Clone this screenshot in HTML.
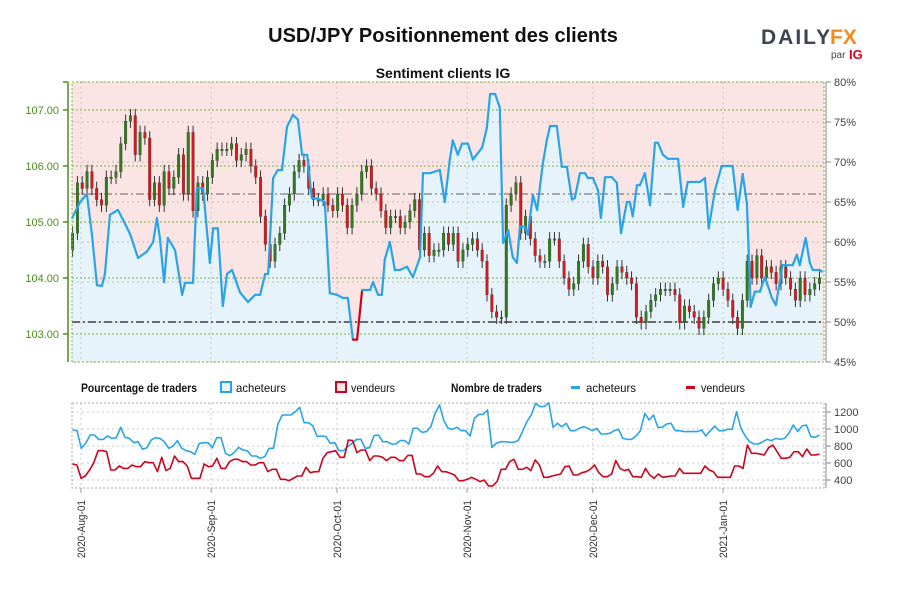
<!DOCTYPE html>
<html><head><meta charset="utf-8"><style>
html,body{margin:0;padding:0;background:#fff;}
svg{display:block;font-family:"Liberation Sans",sans-serif;}
.nar{font-family:"Liberation Sans Narrow","Liberation Sans",sans-serif;}
</style></head><body>
<svg id="c" width="900" height="600" viewBox="0 0 900 600">
<text x="443" y="42" text-anchor="middle" font-size="20" font-weight="bold" fill="#111">USD/JPY Positionnement des clients</text>
<g>
<text x="761" y="44" font-size="21" font-weight="bold" fill="#3d4550" letter-spacing="2">DAILY</text>
<text x="830" y="44" font-size="21" font-weight="bold" fill="#f28c1e">FX</text>
<text x="831" y="58" font-size="10" fill="#444">par</text>
<text x="849" y="59" font-size="13" font-weight="bold" fill="#e2001a">IG</text>
</g>
<text x="443" y="78" text-anchor="middle" font-size="14" font-weight="bold" fill="#111">Sentiment clients IG</text>
<g id="main"></g>
<g id="legend" class="nar">
<text x="81" y="392" font-size="12" font-weight="bold" fill="#111" textLength="116" lengthAdjust="spacingAndGlyphs">Pourcentage de traders</text>
<rect x="221" y="382" width="10" height="10" fill="#e6f3fb" stroke="#2aa4e8" stroke-width="2"/>
<text x="236" y="392" font-size="12" fill="#111" textLength="50" lengthAdjust="spacingAndGlyphs">acheteurs</text>
<rect x="336" y="382" width="10" height="10" fill="#fbe4e4" stroke="#d0021b" stroke-width="2"/>
<text x="351" y="392" font-size="12" fill="#111" textLength="44" lengthAdjust="spacingAndGlyphs">vendeurs</text>
<text x="451" y="392" font-size="12" font-weight="bold" fill="#111" textLength="91" lengthAdjust="spacingAndGlyphs">Nombre de traders</text>
<rect x="571" y="386" width="9" height="3" fill="#2aa4e8"/>
<text x="586" y="392" font-size="12" fill="#111" textLength="50" lengthAdjust="spacingAndGlyphs">acheteurs</text>
<rect x="686" y="386" width="9" height="3" fill="#d0021b"/>
<text x="701" y="392" font-size="12" fill="#111" textLength="44" lengthAdjust="spacingAndGlyphs">vendeurs</text>
</g>
<g id="bot"></g>
</svg>
<script>
// ---- data ----
const monthLabels = ["2020-Aug-01","2020-Sep-01","2020-Oct-01","2020-Nov-01","2020-Dec-01","2021-Jan-01"];
const monthDays = [0,31,61,92,122,153];
const priceTicks = [107,106,105,104,103];
const pctTicks = [80,75,70,65,60,55,50,45];
const countTicks = [1200,1000,800,600,400];
const pctDays = [-2.1,-0.2,1.4,2.6,3.8,5.0,5.7,6.9,8.8,10.0,11.7,13.6,15.7,17.2,18.1,18.8,19.8,20.7,22.4,24.1,24.8,26.7,27.6,29.1,30.7,31.5,32.6,33.8,34.8,36.0,37.9,39.8,41.5,42.7,43.9,44.6,45.8,46.9,47.9,49.1,50.5,51.7,52.7,53.9,55.0,56.5,58.1,59.3,61.0,62.4,63.6,64.8,65.8,67.0,68.9,69.6,70.8,71.7,72.4,73.6,74.8,76.0,77.7,79.1,80.8,81.5,83.2,85.5,86.7,87.9,88.6,89.8,90.8,92.2,93.4,95.6,96.7,97.5,98.7,99.8,100.6,101.8,102.9,103.9,104.6,105.8,106.5,107.7,108.7,110.1,111.0,111.8,113.4,114.6,115.8,117.0,117.7,118.9,120.1,120.8,122.0,123.2,123.9,124.9,126.5,127.7,128.7,130.1,130.8,131.5,132.5,133.2,134.4,135.6,136.8,137.5,138.7,139.9,142.3,143.5,144.6,147.5,148.7,149.6,151.1,152.7,155.3,156.5,157.7,158.7,159.6,160.6,161.8,163.0,164.6,165.6,167.2,169.6,170.6,171.3,172.7,173.7,174.4,176.1,176.6];
const pctBuyers = [63,65,66,61,54.6,54.5,56,63.4,64,62.8,61,58,58.8,60,63,60.5,55,60.5,59,53.4,54.9,54.9,66.7,66.7,57.4,61.7,61.7,52,56,56.5,53.7,52.5,53.4,53.4,56,56,68,69,69,74.4,75.9,75.3,70.9,70.9,65.5,65.4,65,53.6,53.4,53,53,47.8,47.8,54,54,55,53.4,53.4,57.8,60,56.5,56.5,56.9,55.6,58.1,68.6,68.6,69,65,70.3,72.7,70.9,72.3,72.3,70.3,71.8,74.2,78.5,78.5,76.8,59.9,61.5,58.1,57.4,61.9,61.9,60.9,65.9,64,69.9,72.7,74.5,74.5,69.4,69.4,65.3,65.5,68.6,68.6,68,68,66.5,63,68.1,68.1,67.4,61.1,65,65,63.2,67.1,67.1,68.6,64.6,72.4,72.4,70.9,70.4,70.4,64.4,67.5,67.5,68,61.7,66.5,69.5,69.5,64,68.5,64.8,51.9,53.8,53.8,55.6,53.1,52.1,57.1,57.1,58.4,57.1,60.5,57.4,56.5,56.5,56.3];
const closes = [104.8,105.7,105.6,105.9,105.6,105.4,105.3,105.8,105.8,105.9,106.4,106.8,106.9,106.2,106.6,106.5,105.4,105.7,105.3,105.9,105.6,105.8,106.2,105.5,106.6,105.2,105.7,105.5,105.8,106.1,106.3,106.3,106.3,106.4,106.1,106.2,106.3,106.0,105.8,105.1,104.6,104.3,104.6,104.8,105.3,105.5,105.9,106.1,106.0,105.6,105.4,105.4,105.5,105.3,105.2,105.5,105.3,104.9,105.3,105.5,105.9,106.0,105.6,105.5,105.2,104.9,105.1,105.1,104.9,105.0,105.2,105.4,104.5,104.8,104.4,104.5,104.5,104.8,104.6,104.8,104.3,104.5,104.6,104.7,104.5,104.3,103.7,103.4,103.3,103.3,105.3,105.5,105.7,104.8,105.1,104.7,104.4,104.3,104.3,104.7,104.7,104.3,104.0,103.8,103.9,104.3,104.6,104.2,104.0,104.3,104.2,103.7,103.9,104.2,104.1,104.0,103.9,103.3,103.2,103.4,103.6,103.7,103.8,103.8,103.8,103.7,103.2,103.5,103.4,103.3,103.1,103.3,103.6,103.9,104.0,103.8,103.6,103.3,103.1,103.6,104.3,104.0,104.4,104.0,104.2,104.1,103.9,104.2,104.0,103.8,103.6,104.0,103.7,103.8,103.9,104.0];
const buyersCount = [988,980,773,831,929,929,878,878,918,890,898,1020,902,890,839,851,761,780,871,898,890,851,773,800,863,773,745,733,702,831,839,839,780,898,898,714,686,722,784,753,745,682,682,655,675,773,773,1059,1165,1165,1165,1204,1255,1074,1074,1039,910,918,910,831,839,745,745,792,831,878,878,773,780,922,929,851,851,824,824,863,863,824,1008,1008,961,969,1027,1184,1282,1098,1008,996,1020,980,980,918,1125,1172,1172,1223,784,831,851,851,843,843,863,969,1086,1165,1302,1263,1263,1310,1020,1067,1027,1067,980,980,1008,1027,1008,980,1008,941,941,949,980,996,890,878,878,918,980,1184,1106,1165,1020,1020,1059,1067,980,980,969,969,969,969,988,918,980,1035,980,980,996,996,1204,1008,918,851,824,824,851,878,863,890,878,890,949,1047,969,1035,1047,910,902,929];
const sellersCount = [588,577,420,447,518,604,745,745,733,518,518,565,537,537,577,557,557,616,604,604,498,667,510,537,682,616,616,565,420,420,420,588,557,565,655,537,537,616,643,643,616,616,577,577,604,604,498,526,526,408,408,392,420,447,447,549,486,498,498,655,722,733,745,667,667,871,863,722,753,753,628,682,682,667,628,667,667,628,628,690,690,471,471,439,439,478,565,498,498,479,459,392,392,408,432,408,381,400,330,330,381,526,526,616,643,526,526,549,510,635,577,432,432,447,459,471,557,565,459,459,486,498,526,577,486,439,439,471,628,537,510,526,439,439,432,537,459,420,471,432,439,447,447,537,479,479,479,479,479,565,518,498,432,432,432,432,565,565,537,812,714,714,706,694,780,812,733,655,655,667,733,733,675,765,694,694,706];

// ---- scales ----
const X0=81, DPX=4.196;
function xDay(d){return X0+d*DPX;}
function yPrice(p){return 110+(107-p)*56;}
function yPct(p){return 82+(80-p)*8;}
function yCount(v){return 412+(1200-v)*0.085;}
const L=72,R=824,T=82,B=362,BT=403,BB=488;
const NS='http://www.w3.org/2000/svg';
function mk(parent,tag,attrs){const e=document.createElementNS(NS,tag);for(const k in attrs)e.setAttribute(k,attrs[k]);parent.appendChild(e);return e;}
const main=document.getElementById('main');
const bot=document.getElementById('bot');

let bg=mk(main,'rect',{x:L,y:T,width:R-L,height:B-T,fill:'#fbe4e4'});



let dArea='M'+xDay(pctDays[0])+','+B;
pctDays.forEach((d,i)=>{dArea+=' L'+xDay(d).toFixed(1)+','+yPct(pctBuyers[i]).toFixed(1);});
dArea+=' L'+xDay(pctDays[pctDays.length-1])+','+B+' Z';
let area=mk(main,'path',{d:dArea,fill:'#e6f3fb'});



monthDays.forEach((d,i)=>{
  let g=mk(main,'line',{x1:xDay(d),x2:xDay(d),y1:T,y2:B,stroke:'#c8c8c8','stroke-dasharray':'2,3','stroke-width':1});
  
  
});
pctTicks.forEach(p=>{
  let g=mk(main,'line',{x1:L,x2:R,y1:yPct(p),y2:yPct(p),stroke:'#c8b8b8','stroke-dasharray':'2,3','stroke-width':1});
  
  
});
priceTicks.forEach(p=>{
  let g=mk(main,'line',{x1:L,x2:R,y1:yPrice(p),y2:yPrice(p),stroke:'#7cb342','stroke-dasharray':'2,2','stroke-width':1});
  
  
});
let ref1=mk(main,'line',{x1:L,x2:R,y1:yPct(66),y2:yPct(66),stroke:'#8a7a7a','stroke-dasharray':'8,3,2,3','stroke-width':1.2});


let ref2=mk(main,'line',{x1:L,x2:R,y1:yPct(50),y2:yPct(50),stroke:'#6a6a6a','stroke-dasharray':'8,3,2,3','stroke-width':2});



const n=closes.length, d0=-2, d1=176;
for(let i=0;i<n;i++){
  const d=d0+i*(d1-d0)/(n-1);
  const c=closes[i], o=i>0?closes[i-1]:closes[0]-0.3;
  const hi=Math.max(o,c)+0.12, lo=Math.min(o,c)-0.12;
  const x=xDay(d);
  let w=mk(main,'line',{x1:x,x2:x,y1:yPrice(hi),y2:yPrice(lo),stroke:'#333','stroke-width':1});
  
  
  const top=yPrice(Math.max(o,c)),h=Math.max(1.5,Math.abs(yPrice(o)-yPrice(c)));
  let b=mk(main,'rect',{x:x-1.3,y:top,width:2.6,height:h,fill:c>=o?'#2e7d1a':'#d7191c',stroke:'#333','stroke-width':0.3});
  
  
}

for(let i=1;i<pctDays.length;i++){
  const a=pctBuyers[i-1],b=pctBuyers[i];
  const col=(a<50)?'#d0021b':'#2aa4e8';
  let s=mk(main,'line',{x1:xDay(pctDays[i-1]),y1:yPct(a),x2:xDay(pctDays[i]),y2:yPct(b),stroke:col,'stroke-width':2.2,'stroke-linecap':'round'});
  
  
}

let fr=mk(main,'rect',{x:L,y:T,width:R-L,height:B-T,fill:'none',stroke:'#7cb342','stroke-dasharray':'2,2','stroke-width':1});



let la=mk(main,'line',{x1:68,x2:68,y1:T,y2:B,stroke:'#4a8f1a','stroke-width':1.5});


mk(main,'line',{x1:63,x2:68,y1:T,y2:T,stroke:'#4a8f1a','stroke-width':1.5});
priceTicks.forEach(p=>{
  let tk=mk(main,'line',{x1:63,x2:68,y1:yPrice(p),y2:yPrice(p),stroke:'#4a8f1a','stroke-width':1.5});
  
  
  let t=mk(main,'text',{x:59,y:yPrice(p)+4,'text-anchor':'end','font-size':11,fill:'#4a8f1a',class:'nar'});
  t.textContent=p.toFixed(2);
  
  
});
let ra=mk(main,'line',{x1:826,x2:826,y1:T,y2:B,stroke:'#888','stroke-width':1});


pctTicks.forEach(p=>{
  let tk=mk(main,'line',{x1:826,x2:831,y1:yPct(p),y2:yPct(p),stroke:'#888','stroke-width':1});
  
  
  let t=mk(main,'text',{x:834,y:yPct(p)+4,'font-size':11,fill:'#444',class:'nar'});
  t.textContent=p+'%';
  
  
});

countTicks.forEach(v=>{
  let g=mk(bot,'line',{x1:L,x2:R,y1:yCount(v),y2:yCount(v),stroke:'#c8c8c8','stroke-dasharray':'2,3','stroke-width':1});
  
  
  let tk=mk(bot,'line',{x1:826,x2:831,y1:yCount(v),y2:yCount(v),stroke:'#888'});
  
  
  let t=mk(bot,'text',{x:834,y:yCount(v)+4,'font-size':11,fill:'#444',class:'nar'});
  t.textContent=v;
  
  
});
let ba=mk(bot,'line',{x1:826,x2:826,y1:BT,y2:BB,stroke:'#888'});


monthDays.forEach((d,i)=>{
  let g=mk(bot,'line',{x1:xDay(d),x2:xDay(d),y1:BT,y2:BB,stroke:'#c8c8c8','stroke-dasharray':'2,3'});
  
  
  let tk=mk(bot,'line',{x1:xDay(d),x2:xDay(d),y1:BB,y2:BB+5,stroke:'#999'});
  
  
  let t=mk(bot,'text',{x:0,y:0,'font-size':11,fill:'#333','text-anchor':'end',class:'nar',textLength:58,lengthAdjust:'spacingAndGlyphs',transform:'translate('+(xDay(d)+4)+','+(BB+12)+') rotate(-90)'});
  t.textContent=monthLabels[i];
  
  
});
function series(arr,color,name){
  const m=arr.length;let pts='';
  arr.forEach((v,i)=>{const d=d0+i*(d1-d0)/(m-1);pts+=xDay(d).toFixed(1)+','+yCount(v).toFixed(1)+' ';});
  let p=mk(bot,'polyline',{points:pts,fill:'none',stroke:color,'stroke-width':1.6,'stroke-linejoin':'round'});
  
  
}
series(buyersCount,'#2aa4e8','buyers-count-line');
series(sellersCount,'#d0021b','sellers-count-line');
let bf=mk(bot,'rect',{x:L,y:BT,width:R-L,height:BB-BT,fill:'none',stroke:'#aaa','stroke-dasharray':'2,2'});


</script>
</body></html>
